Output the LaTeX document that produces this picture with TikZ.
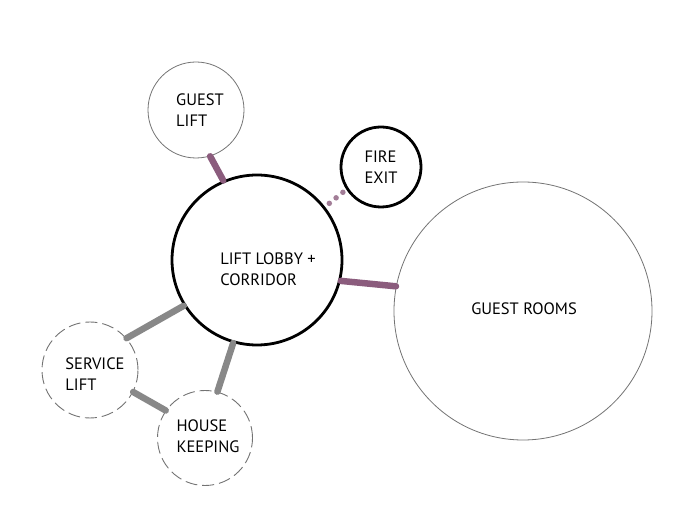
\documentclass[tikz,border=0pt]{standalone}
\usepackage{fontspec}
\setmainfont{PT Sans}
\usetikzlibrary{calc}
\definecolor{mauve}{RGB}{139,92,125}
\definecolor{linkgray}{RGB}{136,136,136}
\definecolor{thingray}{RGB}{115,115,115}
\tikzset{
  bubble/.style={circle, inner sep=0pt, minimum size=#1},
  thinbubble/.style={bubble=#1, draw=thingray, line width=0.8pt},
  boldbubble/.style={bubble=#1, draw=black, line width=2.8pt},
  dashbubble/.style={bubble=#1, draw=thingray, line width=0.9pt, dash pattern=on 12pt off 5pt},
  lbl/.style={align=left, inner sep=0pt, font=\fontsize{16.5}{20.5}\selectfont, text=black},
  mauvelink/.style={draw=mauve, line width=6.5pt, line cap=round},
  graylink/.style={draw=linkgray, line width=6.5pt, line cap=round},
  dotmark/.style={circle, fill=mauve!80, inner sep=0pt, minimum size=5.5pt}
}
\begin{document}
\begin{tikzpicture}[x=1pt,y=-1pt]
\useasboundingbox (0,0) rectangle (686,526);
% bubbles
\node[thinbubble=96pt]  (glift) at (196,110) {};
\node[boldbubble=80pt]  (fire)  at (381,167) {};
\node[boldbubble=170pt] (lobby) at (257,260) {};
\node[thinbubble=258pt] (rooms) at (523,311) {};
\node[dashbubble=96pt]  (slift) at (90,370) {};
\node[dashbubble=95pt]  (house) at (205,438) {};
% connectors
\draw[mauvelink] (glift.-73) -- (lobby.113);
\draw[mauvelink] (lobby.-14) -- (rooms.169);
\draw[graylink] (lobby.212) -- (slift.41);
\draw[graylink] (lobby.254) -- (house.75);
\draw[graylink] (slift.-27) -- (house.145);
\coordinate (fa) at (lobby.38);
\coordinate (fb) at (fire.213);
\node[dotmark] (d1) at ($(fa)!0.2!(fb)$) {};
\node[dotmark] (d2) at ($(fa)!0.52!(fb)$) {};
\node[dotmark] (d3) at ($(fa)!0.84!(fb)$) {};
% labels
\node[lbl] (tglift) at (200,110) {GUEST\\LIFT};
\node[lbl] (tfire)  at (381,167) {FIRE\\EXIT};
\node[lbl] (tlobby) at (268,269) {LIFT LOBBY +\\CORRIDOR};
\node[lbl] (trooms) at (524,309) {GUEST ROOMS};
\node[lbl] (tslift) at (95,374) {SERVICE\\LIFT};
\node[lbl] (thouse) at (208,436) {HOUSE\\KEEPING};
\end{tikzpicture}
\end{document}
